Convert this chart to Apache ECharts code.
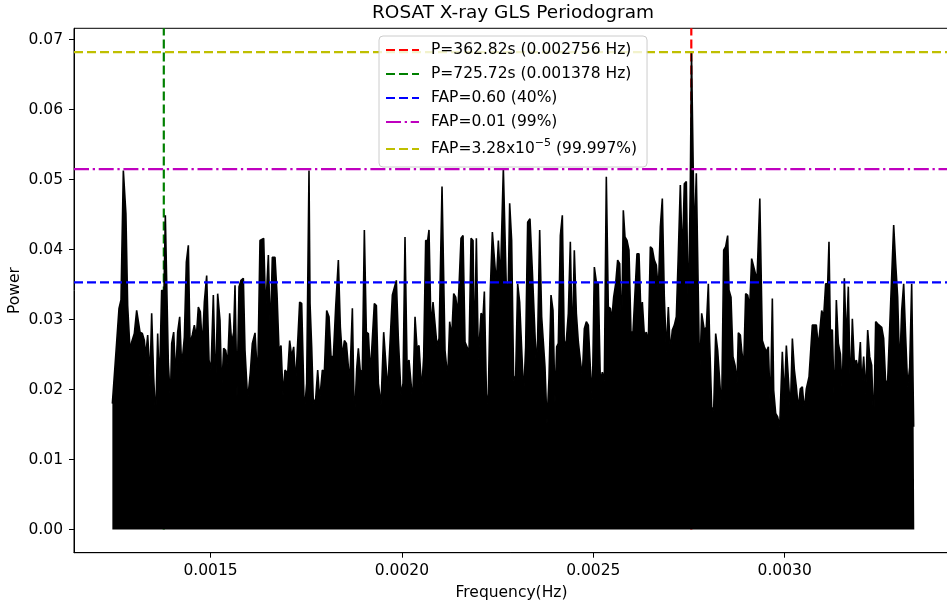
<!DOCTYPE html>
<html>
<head>
<meta charset="utf-8">
<title>ROSAT X-ray GLS Periodogram</title>
<script src="https://cdn.jsdelivr.net/npm/echarts@6/dist/echarts.min.js"></script>
<style>
html, body { margin: 0; padding: 0; background: #fff; }
#main { width: 947px; height: 606px; }
</style>
</head>
<body>
<div id="main"></div>
<script>
// periodogram upper edge (Hz, power)
var freqHz = [
    0.0012436, 0.0012549, 0.0012610, 0.0012662, 0.0012723, 0.0012790, 0.0012836, 0.0012897, 0.0012941, 0.0013010,
    0.0013071, 0.0013115, 0.0013158, 0.0013219, 0.0013272, 0.0013306, 0.0013359, 0.0013420, 0.0013463, 0.0013515,
    0.0013568, 0.0013620, 0.0013663, 0.0013724, 0.0013785, 0.0013820, 0.0013899, 0.0013951, 0.0013986, 0.0014038, 0.0014090,
    0.0014142, 0.0014195, 0.0014247, 0.0014317, 0.0014369, 0.0014421, 0.0014465, 0.0014525, 0.0014578, 0.0014630,
    0.0014682, 0.0014734, 0.0014787, 0.0014839, 0.0014900, 0.0014961, 0.0015013, 0.0015074, 0.0015135, 0.0015187,
    0.0015248, 0.0015292, 0.0015344, 0.0015396, 0.0015449, 0.0015501, 0.0015553, 0.0015605, 0.0015640, 0.0015692,
    0.0015745, 0.0015797, 0.0015858, 0.0015901, 0.0015971, 0.0016041, 0.0016093, 0.0016163, 0.0016232, 0.0016293,
    0.0016337, 0.0016389, 0.0016441, 0.0016511, 0.0016563, 0.0016615, 0.0016685, 0.0016737, 0.0016790, 0.0016842,
    0.0016894, 0.0016946, 0.0017016, 0.0017068, 0.0017120, 0.0017173, 0.0017225, 0.0017277, 0.0017329, 0.0017382,
    0.0017451, 0.0017512, 0.0017573,
    0.0017600, 0.0017643, 0.0017687, 0.0017748, 0.0017800, 0.0017852, 0.0017922, 0.0017974, 0.0018035, 0.0018096,
    0.0018148, 0.0018209, 0.0018270, 0.0018340, 0.0018392, 0.0018444, 0.0018497, 0.0018549, 0.0018584, 0.0018636,
    0.0018706, 0.0018758, 0.0018819, 0.0018862, 0.0018915, 0.0018967, 0.0019019, 0.0019071, 0.0019124, 0.0019176,
    0.0019228, 0.0019280, 0.0019333, 0.0019385, 0.0019454, 0.0019524, 0.0019576, 0.0019629, 0.0019681, 0.0019751,
    0.0019803, 0.0019855, 0.0019907, 0.0019977, 0.0020029, 0.0020081, 0.0020134, 0.0020186, 0.0020238, 0.0020282,
    0.0020343, 0.0020395, 0.0020447, 0.0020517, 0.0020569, 0.0020621, 0.0020674, 0.0020708, 0.0020761, 0.0020813,
    0.0020865, 0.0020917, 0.0020970, 0.0021048, 0.0021126, 0.0021196, 0.0021248, 0.0021301, 0.0021353, 0.0021405,
    0.0021457, 0.0021492, 0.0021544, 0.0021597, 0.0021649, 0.0021701, 0.0021753, 0.0021806, 0.0021858, 0.0021892,
    0.0021945, 0.0021997, 0.0022067, 0.0022119, 0.0022154, 0.0022215, 0.0022258, 0.0022311, 0.0022363, 0.0022415,
    0.0022467, 0.0022520, 0.0022572, 0.0022650, 0.0022729, 0.0022781,
    0.0022815, 0.0022867, 0.0022919, 0.0022972, 0.0023024, 0.0023076, 0.0023128, 0.0023181, 0.0023233, 0.0023285,
    0.0023346, 0.0023407, 0.0023459, 0.0023512, 0.0023546, 0.0023599, 0.0023651, 0.0023703, 0.0023738, 0.0023790,
    0.0023842, 0.0023895, 0.0023947, 0.0023999, 0.0024043, 0.0024086, 0.0024139, 0.0024191, 0.0024243, 0.0024295,
    0.0024348, 0.0024400, 0.0024452, 0.0024504, 0.0024557, 0.0024609, 0.0024661, 0.0024713, 0.0024766, 0.0024818,
    0.0024870, 0.0024922, 0.0024975, 0.0025027, 0.0025079, 0.0025131, 0.0025184, 0.0025236, 0.0025288, 0.0025340,
    0.0025392, 0.0025445, 0.0025480, 0.0025532, 0.0025584, 0.0025636, 0.0025689, 0.0025741, 0.0025784, 0.0025828,
    0.0025880, 0.0025932, 0.0025984, 0.0026037, 0.0026089, 0.0026141, 0.0026194, 0.0026246, 0.0026281, 0.0026333,
    0.0026385, 0.0026437, 0.0026490, 0.0026542, 0.0026594, 0.0026646, 0.0026699, 0.0026751, 0.0026803, 0.0026855,
    0.0026908, 0.0026960, 0.0027012, 0.0027064, 0.0027117, 0.0027169, 0.0027221, 0.0027273, 0.0027326, 0.0027378,
    0.0027430, 0.0027482, 0.0027535, 0.0027565, 0.0027639, 0.0027691, 0.0027726, 0.0027778, 0.0027831, 0.0027900,
    0.0027953, 0.0028005,
    0.0028040, 0.0028092, 0.0028144, 0.0028197, 0.0028249, 0.0028301, 0.0028353, 0.0028406, 0.0028458, 0.0028510,
    0.0028545, 0.0028597, 0.0028649, 0.0028702, 0.0028754, 0.0028789, 0.0028841, 0.0028876, 0.0028928, 0.0028980,
    0.0029033, 0.0029085, 0.0029137, 0.0029189, 0.0029224, 0.0029276, 0.0029350, 0.0029416, 0.0029468, 0.0029520,
    0.0029573, 0.0029625, 0.0029677, 0.0029712, 0.0029764, 0.0029816, 0.0029869, 0.0029938, 0.0029990, 0.0030043,
    0.0030095, 0.0030147, 0.0030200, 0.0030252, 0.0030304, 0.0030356, 0.0030408, 0.0030461, 0.0030513, 0.0030565,
    0.0030635, 0.0030687, 0.0030722, 0.0030774, 0.0030826, 0.0030879, 0.0030931, 0.0030966, 0.0031018, 0.0031070,
    0.0031123, 0.0031157, 0.0031192, 0.0031245, 0.0031297, 0.0031349, 0.0031401, 0.0031454, 0.0031506, 0.0031558,
    0.0031610, 0.0031662, 0.0031715, 0.0031767, 0.0031819, 0.0031871, 0.0031924, 0.0031976, 0.0032011, 0.0032063,
    0.0032115, 0.0032168, 0.0032220, 0.0032272, 0.0032324, 0.0032376, 0.0032429, 0.0032481, 0.0032533, 0.0032585,
    0.0032638, 0.0032690, 0.0032742, 0.0032794, 0.0032847, 0.0032899, 0.0032951, 0.0033003, 0.0033056, 0.0033108,
    0.0033160, 0.0033212, 0.0033265, 0.0033317, 0.0033369, 0.0033385
];
var power = [
    0.0180, 0.0268, 0.0316, 0.0328, 0.0513, 0.0451, 0.0320, 0.0256, 0.0268, 0.0280,
    0.0313, 0.0311, 0.0282, 0.0280, 0.0270, 0.0247, 0.0278, 0.0218, 0.0309, 0.0218,
    0.0156, 0.0280, 0.0201, 0.0342, 0.0340, 0.0449, 0.0237, 0.0185, 0.0266, 0.0282, 0.0218,
    0.0282, 0.0304, 0.0232, 0.0275, 0.0382, 0.0406, 0.0266, 0.0278, 0.0292, 0.0275,
    0.0318, 0.0311, 0.0261, 0.0325, 0.0363, 0.0242, 0.0228, 0.0335, 0.0199, 0.0337,
    0.0299, 0.0199, 0.0259, 0.0256, 0.0237, 0.0309, 0.0266, 0.0282, 0.0349, 0.0190,
    0.0347, 0.0356, 0.0359, 0.0256, 0.0185, 0.0225, 0.0266, 0.0281, 0.0213, 0.0413,
    0.0413, 0.0416, 0.0311, 0.0392, 0.0278, 0.0389, 0.0389, 0.0337, 0.0256, 0.0263,
    0.0192, 0.0228, 0.0223, 0.0270, 0.0247, 0.0261, 0.0209, 0.0209, 0.0325, 0.0323,
    0.0166, 0.0209, 0.0513,
    0.0323, 0.0261, 0.0180, 0.0187, 0.0228, 0.0185, 0.0228, 0.0225, 0.0313, 0.0304,
    0.0247, 0.0247, 0.0318, 0.0385, 0.0289, 0.0247, 0.0270, 0.0266, 0.0244, 0.0209,
    0.0316, 0.0152, 0.0230, 0.0259, 0.0225, 0.0228, 0.0428, 0.0282, 0.0280, 0.0223,
    0.0223, 0.0323, 0.0320, 0.0209, 0.0178, 0.0282, 0.0282, 0.0199, 0.0201, 0.0335,
    0.0337, 0.0356, 0.0273, 0.0192, 0.0209, 0.0418, 0.0237, 0.0242, 0.0242, 0.0182,
    0.0304, 0.0259, 0.0263, 0.0199, 0.0247, 0.0413, 0.0413, 0.0428, 0.0285, 0.0325,
    0.0325, 0.0263, 0.0273, 0.0490, 0.0256, 0.0216, 0.0297, 0.0275, 0.0337, 0.0332,
    0.0309, 0.0347, 0.0416, 0.0420, 0.0268, 0.0266, 0.0254, 0.0416, 0.0413, 0.0244,
    0.0416, 0.0244, 0.0309, 0.0304, 0.0340, 0.0175, 0.0194, 0.0344, 0.0425, 0.0425,
    0.0351, 0.0413, 0.0354, 0.0516, 0.0342, 0.0354,
    0.0466, 0.0413, 0.0213, 0.0220, 0.0351, 0.0325, 0.0325, 0.0192, 0.0261, 0.0439,
    0.0444, 0.0370, 0.0370, 0.0232, 0.0273, 0.0428, 0.0304, 0.0306, 0.0232, 0.0152,
    0.0216, 0.0335, 0.0313, 0.0182, 0.0261, 0.0266, 0.0420, 0.0449, 0.0261, 0.0270,
    0.0309, 0.0411, 0.0259, 0.0399, 0.0309, 0.0268, 0.0242, 0.0218, 0.0287, 0.0297,
    0.0292, 0.0232, 0.0187, 0.0375, 0.0354, 0.0351, 0.0211, 0.0225, 0.0213, 0.0504,
    0.0318, 0.0316, 0.0299, 0.0332, 0.0351, 0.0385, 0.0380, 0.0278, 0.0456, 0.0418,
    0.0413, 0.0399, 0.0282, 0.0282, 0.0280, 0.0394, 0.0394, 0.0304, 0.0325, 0.0278,
    0.0282, 0.0268, 0.0404, 0.0401, 0.0385, 0.0378, 0.0340, 0.0432, 0.0473, 0.0332,
    0.0254, 0.0318, 0.0254, 0.0285, 0.0292, 0.0304, 0.0394, 0.0492, 0.0385, 0.0494,
    0.0497, 0.0304, 0.0494, 0.0682, 0.0409, 0.0509, 0.0509, 0.0218, 0.0309, 0.0285,
    0.0289, 0.0351,
    0.0268, 0.0175, 0.0170, 0.0280, 0.0256, 0.0254, 0.0170, 0.0399, 0.0404, 0.0420,
    0.0342, 0.0332, 0.0247, 0.0235, 0.0209, 0.0281, 0.0278, 0.0256, 0.0232, 0.0337,
    0.0335, 0.0318, 0.0387, 0.0385, 0.0368, 0.0356, 0.0473, 0.0270, 0.0261, 0.0254,
    0.0261, 0.0170, 0.0330, 0.0199, 0.0166, 0.0161, 0.0147, 0.0254, 0.0187, 0.0263,
    0.0261, 0.0170, 0.0273, 0.0228, 0.0204, 0.0173, 0.0201, 0.0204, 0.0170, 0.0201,
    0.0218, 0.0218, 0.0292, 0.0294, 0.0292, 0.0261, 0.0292, 0.0313, 0.0304, 0.0351,
    0.0351, 0.0411, 0.0285, 0.0285, 0.0175, 0.0328, 0.0266, 0.0251, 0.0194, 0.0359,
    0.0266, 0.0347, 0.0194, 0.0301, 0.0237, 0.0242, 0.0228, 0.0268, 0.0206, 0.0247,
    0.0194, 0.0285, 0.0247, 0.0235, 0.0147, 0.0297, 0.0294, 0.0292, 0.0289, 0.0273,
    0.0209, 0.0213, 0.0287, 0.0289, 0.0435, 0.0380, 0.0332, 0.0228, 0.0313, 0.0351,
    0.0275, 0.0204, 0.0232, 0.0351, 0.0147, 0.0147
];

var periodNames = ['P=362.82s (0.002756 Hz)', 'P=725.72s (0.001378 Hz)'];
var periodFreqs = [0.002756, 0.001378];
var periodColors = ['#ff0000', '#008000'];

var fapNames = ['FAP=0.60 (40%)', 'FAP=0.01 (99%)', 'FAP=3.28x10^-5 (99.997%)'];
var fapLevels = [0.0353, 0.0515, 0.0682];
var fapColors = ['#0000ff', '#bf00bf', '#bfbf00'];
var fapDash = [[9, 4], [15, 3.7, 2.3, 3.7], [9, 4]];

var xTicks = [0.0015, 0.0020, 0.0025, 0.0030];
var yTicks = [0.00, 0.01, 0.02, 0.03, 0.04, 0.05, 0.06, 0.07];

var xMin = 0.0011434, xMax = 0.0034292;
var yMin = -0.0033, yMax = 0.0716;

var font = 'DejaVu Sans';

var dom = document.getElementById('main');
var myChart = echarts.init(dom, null, {renderer: 'canvas'});

var series = [];

// vertical period lines sit under the periodogram, from zero power to the top
for (var i = 0; i < periodFreqs.length; i++) {
    series.push({
        name: periodNames[i],
        type: 'line',
        z: 1,
        symbol: 'none',
        silent: true,
        color: periodColors[i],
        lineStyle: {color: periodColors[i], width: 2.2, type: [9, 4]},
        data: [[periodFreqs[i], 0], [periodFreqs[i], yMax]]
    });
}

series.push({
    name: 'GLS',
    type: 'line',
    z: 2,
    symbol: 'none',
    silent: true,
    sampling: 'none',
    lineStyle: {color: '#000', width: 1.6},
    areaStyle: {color: '#000', opacity: 1},
    data: freqHz.map(function (f, k) { return [f, power[k]]; })
});

// FAP levels are drawn over it
for (var j = 0; j < fapLevels.length; j++) {
    series.push({
        name: fapNames[j],
        type: 'line',
        z: 3,
        symbol: 'none',
        silent: true,
        color: fapColors[j],
        lineStyle: {color: fapColors[j], width: 2.2, type: fapDash[j]},
        data: [[xMin, fapLevels[j]], [xMax, fapLevels[j]]]
    });
}

var option = {
    animation: false,
    backgroundColor: '#fff',
    title: {
        text: 'ROSAT X-ray GLS Periodogram',
        left: 513,
        top: 4,
        padding: 0,
        textAlign: 'center',
        textStyle: {fontFamily: font, fontSize: 18.5, fontWeight: 'normal', color: '#000'}
    },
    legend: {
        data: periodNames.concat(fapNames),
        orient: 'vertical',
        left: 379,
        top: 36,
        padding: [6, 10, 7, 6],
        itemWidth: 33,
        itemHeight: 14,
        itemGap: 8,
        selectedMode: false,
        backgroundColor: 'rgba(255,255,255,0.8)',
        borderColor: '#cccccc',
        borderWidth: 1,
        borderRadius: 4,
        itemStyle: {color: 'rgba(0,0,0,0)', borderWidth: 0, opacity: 0},
        formatter: function (name) {
            if (name === fapNames[2]) {
                return 'FAP=3.28x10{sup|\u22125} (99.997%)';
            }
            return name;
        },
        textStyle: {
            fontFamily: font,
            fontSize: 15.5,
            color: '#000',
            padding: [0, 0, 0, 7],
            rich: {
                sup: {fontFamily: font, fontSize: 11, color: '#000', padding: [0, 0, 11, 0], lineHeight: 22}
            }
        }
    },
    grid: {
        left: 74,
        right: -2,
        top: 28.3,
        bottom: 53.3,
        show: true,
        borderColor: '#000',
        borderWidth: 1,
        containLabel: false,
        outerBoundsMode: 'none'
    },
    xAxis: {
        type: 'value',
        min: xMin,
        max: xMax,
        name: 'Frequency(Hz)',
        nameLocation: 'middle',
        nameGap: 32,
        nameMoveOverlap: false,
        nameTextStyle: {fontFamily: font, fontSize: 15.5, color: '#000'},
        axisLine: {show: true, onZero: false, lineStyle: {color: '#000', width: 1}},
        axisTick: {show: true, length: 5, customValues: xTicks, lineStyle: {color: '#000'}},
        axisLabel: {
            customValues: xTicks,
            margin: 10,
            fontFamily: font,
            fontSize: 15.5,
            color: '#000',
            formatter: function (v) { return v.toFixed(4); }
        },
        splitLine: {show: false}
    },
    yAxis: {
        type: 'value',
        min: yMin,
        max: yMax,
        name: 'Power',
        nameLocation: 'middle',
        nameRotate: 90,
        nameGap: 51,
        nameMoveOverlap: false,
        nameTextStyle: {fontFamily: font, fontSize: 15.5, color: '#000'},
        axisLine: {show: true, onZero: false, lineStyle: {color: '#000', width: 1}},
        axisTick: {show: true, length: 5, customValues: yTicks, lineStyle: {color: '#000'}},
        axisLabel: {
            customValues: yTicks,
            margin: 11,
            fontFamily: font,
            fontSize: 15.5,
            color: '#000',
            formatter: function (v) { return v.toFixed(2); }
        },
        splitLine: {show: false}
    },
    series: series
};

if (option && typeof option === 'object') {
    myChart.setOption(option, true);
}
</script>
</body>
</html>
